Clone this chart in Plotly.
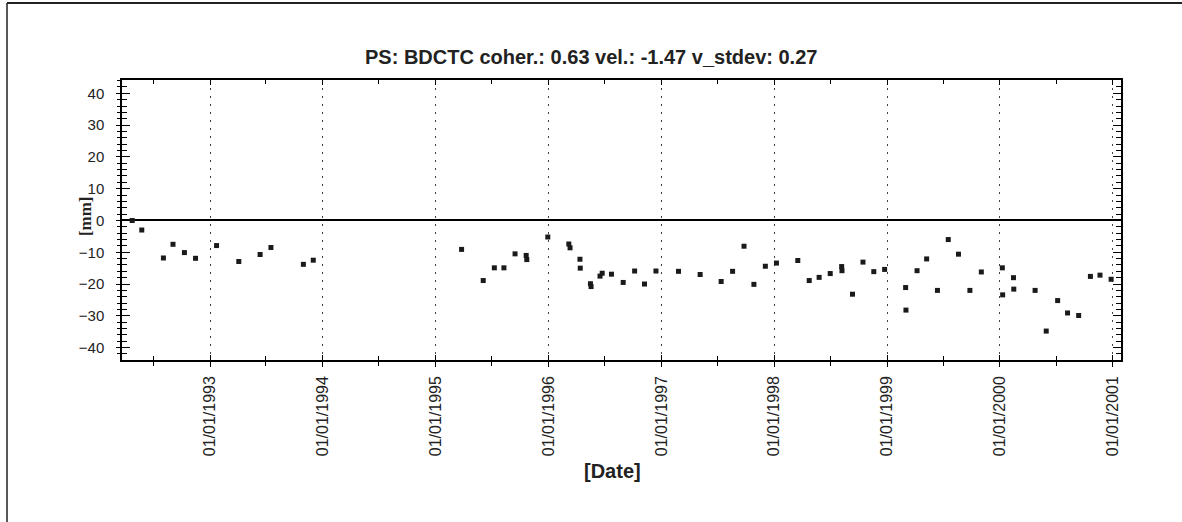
import plotly.graph_objects as go

# ---- data ----
dates = [
    "1992-04-24", "1992-05-25", "1992-08-03", "1992-09-03", "1992-10-10", "1992-11-15",
    "1993-01-22", "1993-04-04", "1993-06-12", "1993-07-17", "1993-10-30", "1993-12-01",
    "1995-03-26", "1995-06-04", "1995-07-10", "1995-08-10", "1995-09-15", "1995-10-21",
    "1995-10-23", "1995-12-30",
    "1996-03-07", "1996-03-11", "1996-04-12", "1996-04-13", "1996-05-16", "1996-05-18",
    "1996-06-16", "1996-06-23", "1996-07-23", "1996-08-30", "1996-10-06", "1996-11-07",
    "1996-12-14",
    "1997-02-25", "1997-05-06", "1997-07-13", "1997-08-19", "1997-09-25", "1997-10-27",
    "1997-12-03",
    "1998-01-08", "1998-03-18", "1998-04-24", "1998-05-26", "1998-07-01", "1998-08-07",
    "1998-08-08", "1998-09-11", "1998-10-15", "1998-11-19", "1998-12-24",
    "1999-03-02", "1999-03-03", "1999-04-08", "1999-05-09", "1999-06-13", "1999-07-18",
    "1999-08-20", "1999-09-26", "1999-11-02",
    "2000-01-09", "2000-01-10", "2000-02-14", "2000-02-15", "2000-04-24", "2000-05-30",
    "2000-07-06", "2000-08-07", "2000-09-12", "2000-10-20", "2000-11-20", "2000-12-26",
]
disp_mm = [
    0.0, -3.0, -11.8, -7.5, -10.1, -11.9,
    -7.9, -12.9, -10.7, -8.5, -13.8, -12.5,
    -9.1, -18.9, -14.9, -14.9, -10.5, -11.0,
    -12.3, -5.2,
    -7.4, -8.6, -12.2, -15.0, -19.9, -20.8,
    -17.5, -16.6, -16.9, -19.5, -15.9, -20.0,
    -15.9,
    -16.0, -17.0, -19.2, -16.0, -8.1, -20.1,
    -14.4,
    -13.4, -12.6, -18.9, -17.9, -16.7, -14.5,
    -15.8, -23.2, -13.1, -16.1, -15.4,
    -21.1, -28.2, -15.8, -12.1, -22.0, -6.0,
    -10.6, -22.0, -16.2,
    -14.9, -23.4, -18.0, -21.6, -22.0, -34.8,
    -25.2, -29.1, -29.9, -17.6, -17.2, -18.5,
]

tick_years = [1993, 1994, 1995, 1996, 1997, 1998, 1999, 2000, 2001]
tick_dates = [f"{y}-01-01" for y in tick_years]
tick_labels = [f"01/01/{y}" for y in tick_years]
minor_dates = [f"{y}-07-01" for y in range(1992, 2001)]
y_ticks = [40, 30, 20, 10, 0, -10, -20, -30, -40]

title_text = "PS: BDCTC coher.: 0.63 vel.: -1.47 v_stdev: 0.27"
x_title = "[Date]"
y_title = "[mm]"

x_range = ["1992-03-22", "2001-01-27"]
y_range = [-43.9, 44.2]

fig = go.Figure()
fig.add_trace(go.Scatter(
    x=dates, y=disp_mm, mode="markers",
    marker=dict(symbol="square", size=5, color="#1a1a1a"),
    xaxis="x", yaxis="y", showlegend=False, hoverinfo="x+y",
))
# empty trace to host the overlay axes (crossing / mirrored ticks)
fig.add_trace(go.Scatter(x=[], y=[], xaxis="x2", yaxis="y2", showlegend=False))

ytickfont = dict(family="Liberation Sans, Arial, sans-serif", size=15, color="#222")
xtickfont = dict(family="Liberation Sans, Arial, sans-serif", size=16, color="#222")

fig.update_layout(
    width=1182, height=522,
    margin=dict(l=122, r=61, t=80, b=162),
    paper_bgcolor="white", plot_bgcolor="white",
    showlegend=False,
    xaxis=dict(
        type="date", range=x_range, fixedrange=True,
        tickmode="array", tickvals=tick_dates, ticktext=tick_labels,
        tickangle=-90, tickfont=xtickfont, ticklabelstandoff=3,
        ticks="outside", ticklen=5, tickwidth=1, tickcolor="black",
        showline=True, linecolor="black", linewidth=1.5, mirror=False,
        showgrid=True, gridcolor="#444", gridwidth=1, griddash="2px,6px",
        zeroline=False,
        minor=dict(tickvals=minor_dates, ticks="outside", ticklen=4,
                   tickwidth=1, tickcolor="black", showgrid=False),
    ),
    xaxis2=dict(
        type="date", range=x_range, fixedrange=True, overlaying="x", anchor="y2", side="bottom",
        tickmode="array", tickvals=tick_dates, showticklabels=False,
        ticks="inside", ticklen=5, tickwidth=1, tickcolor="black",
        showline=True, linecolor="black", linewidth=1.5, mirror="allticks",
        showgrid=False, zeroline=False,
        minor=dict(tickvals=minor_dates, ticks="inside", ticklen=4,
                   tickwidth=1, tickcolor="black", showgrid=False),
    ),
    yaxis=dict(
        range=y_range, fixedrange=True,
        tickmode="array", tickvals=y_ticks, tickfont=ytickfont, ticklabelstandoff=9,
        ticks="outside", ticklen=4, tickwidth=1, tickcolor="black",
        showline=True, linecolor="black", linewidth=1.5, mirror=False,
        showgrid=False,
        zeroline=True, zerolinecolor="black", zerolinewidth=2,
        minor=dict(dtick=2, tick0=0, ticks="outside", ticklen=3,
                   tickwidth=1, tickcolor="black", showgrid=False),
    ),
    yaxis2=dict(
        range=y_range, fixedrange=True, overlaying="y", anchor="x2", side="left",
        tickmode="array", tickvals=y_ticks, showticklabels=False,
        ticks="inside", ticklen=8, tickwidth=1, tickcolor="black",
        showline=True, linecolor="black", linewidth=1.5, mirror="allticks",
        showgrid=False, zeroline=False,
        minor=dict(dtick=2, tick0=0, ticks="inside", ticklen=5,
                   tickwidth=1, tickcolor="black", showgrid=False),
    ),
    annotations=[
        dict(text="<b>" + title_text + "</b>", xref="paper", yref="paper", x=0.4695, y=1.082,
             xanchor="center", yanchor="middle", showarrow=False,
             font=dict(family="Liberation Sans, Arial, sans-serif", size=20, color="#222")),
        dict(text="<b>" + x_title + "</b>", xref="paper", yref="paper", x=0.4905, y=-0.396,
             xanchor="center", yanchor="middle", showarrow=False,
             font=dict(family="Liberation Sans, Arial, sans-serif", size=20, color="#222")),
        dict(text="<b>" + y_title + "</b>", xref="paper", yref="paper", x=-0.037, y=0.514,
             xanchor="center", yanchor="middle", showarrow=False, textangle=-90,
             font=dict(family="Liberation Serif, Times New Roman, serif", size=17, color="#222")),
    ],
    shapes=[
        dict(type="line", xref="paper", yref="paper", x0=-0.1151, x1=1.07, y0=1.275, y1=1.275,
             line=dict(color="#222", width=2)),
        dict(type="line", xref="paper", yref="paper", x0=-0.1151, x1=-0.1151, y0=1.275, y1=-0.58,
             line=dict(color="#222", width=1.5)),
    ],
)

fig.write_html("out.html")
